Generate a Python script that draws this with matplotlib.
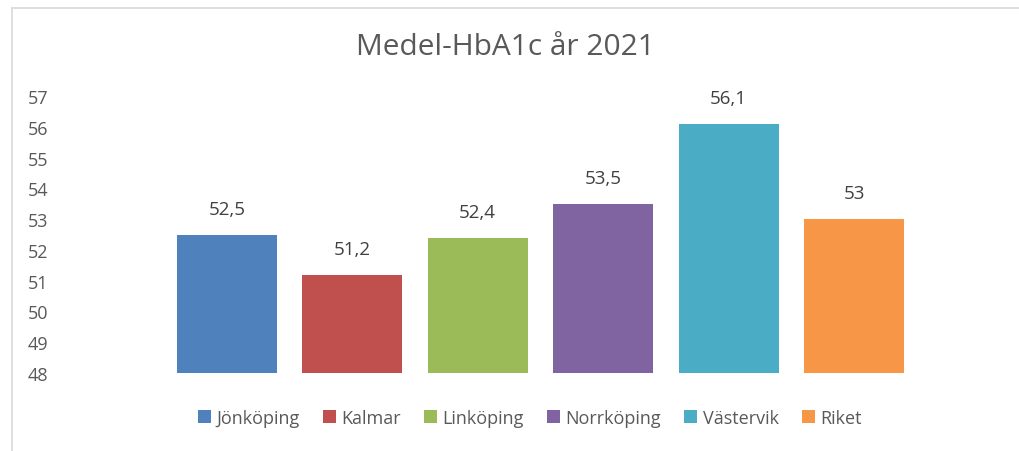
import matplotlib
matplotlib.use("Agg")
import matplotlib.pyplot as plt
from matplotlib.patches import Patch
from matplotlib.lines import Line2D

categories = ["Jönköping", "Kalmar", "Linköping", "Norrköping", "Västervik", "Riket"]
values = [52.5, 51.2, 52.4, 53.5, 56.1, 53.0]
labels = ["52,5", "51,2", "52,4", "53,5", "56,1", "53"]
colors = ["#4F81BD", "#C0504D", "#9BBB59", "#8064A2", "#4BACC6", "#F79646"]
yticks = [48, 49, 50, 51, 52, 53, 54, 55, 56, 57]
title = "Medel-HbA1c år 2021"

plt.rcParams["font.family"] = ["Open Sans", "DejaVu Sans"]
txt = "#595959"

fig = plt.figure(figsize=(10.2, 4.52), dpi=100)
W, H = 1020, 452
ax = fig.add_axes([164 / W, (H - 374) / H, (917 - 164) / W, (374 - 97) / H])

base = 48
x = range(len(categories))
bars = ax.bar(x, [v - base for v in values], bottom=base, width=0.8, color=colors)
for xi, v, lab in zip(x, values, labels):
    ax.annotate(lab, (xi, v), xytext=(0, 12), textcoords="offset points",
                ha="center", va="bottom", fontsize=13.5, color="#404040")

ax.set_xlim(-0.5, len(categories) - 0.5)
ax.set_ylim(48, 57)
ax.set_yticks(yticks)
ax.set_yticklabels([str(t) for t in yticks])
ax.set_xticks([])
for s in ax.spines.values():
    s.set_visible(False)
ax.tick_params(axis="y", length=0, pad=(164 - 28) * 0.72, labelsize=13, labelcolor=txt)
for t in ax.get_yticklabels():
    t.set_horizontalalignment("left")

fig.text(505 / W, 1 - 48 / H, title, ha="center", va="center", fontsize=21.5, color=txt)

handles = [Patch(facecolor=c, edgecolor="none") for c in colors]
fig.legend(handles, categories, loc="center", bbox_to_anchor=(530 / W, 1 - 419 / H),
           ncol=6, frameon=False, fontsize=13, labelcolor=txt,
           handlelength=0.7, handleheight=0.7, handletextpad=0.3, columnspacing=1.3)

# chart border (top and left visible)
fig.add_artist(Line2D([12 / W, 1], [1 - 9 / H, 1 - 9 / H], color="#D9D9D9", lw=1.2))
fig.add_artist(Line2D([12 / W, 12 / W], [0, 1 - 9 / H], color="#D9D9D9", lw=1.2))

fig.savefig("out.png", dpi=100, facecolor="white")
